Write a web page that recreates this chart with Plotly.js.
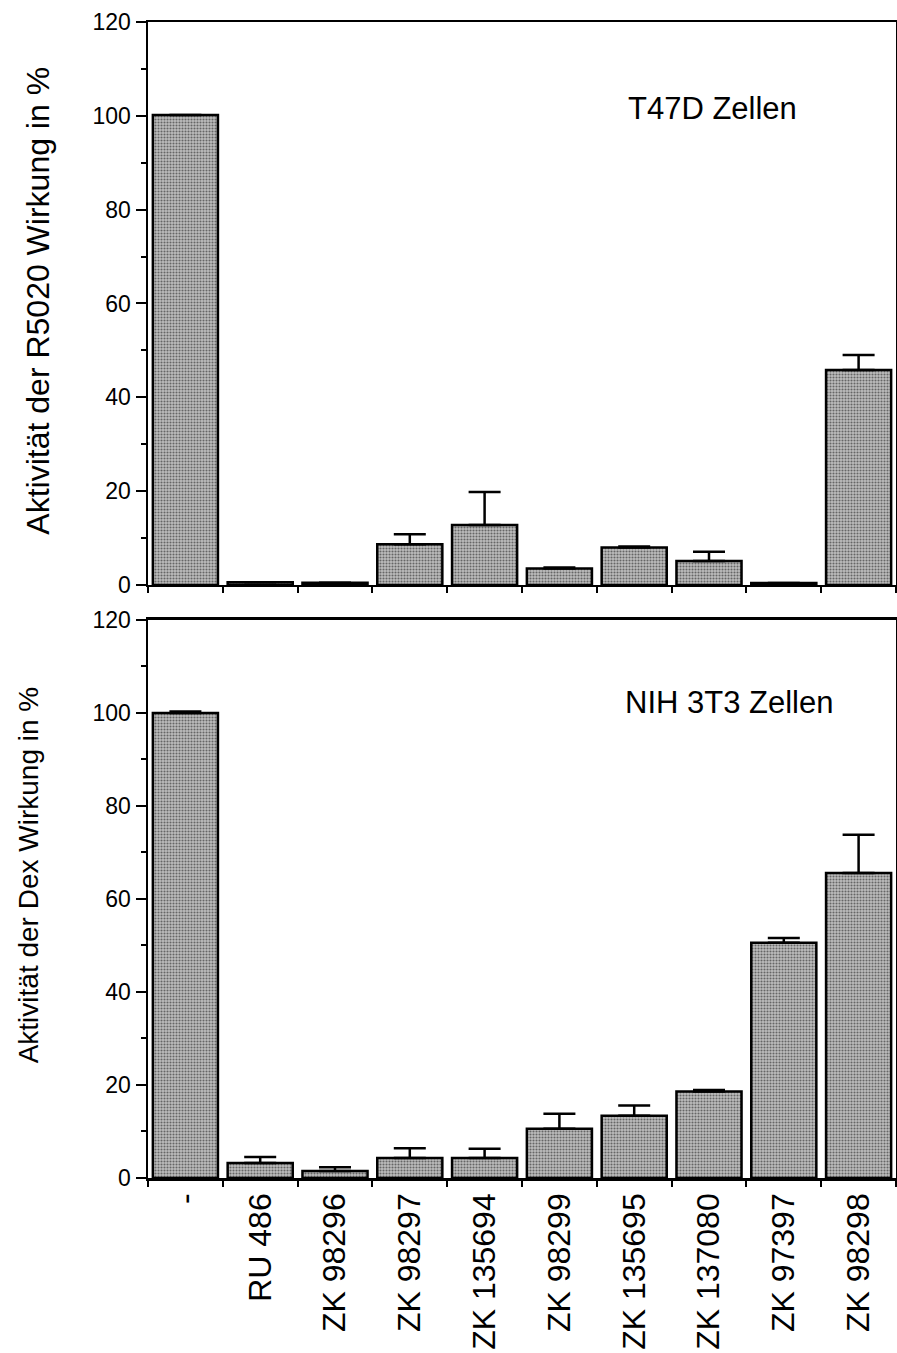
<!DOCTYPE html>
<html>
<head>
<meta charset="utf-8">
<script src="https://cdn.plot.ly/plotly-3.0.1.min.js"></script>
<style>html,body{margin:0;padding:0;background:#fff;}#chart{width:897px;height:1353px;}</style>
</head>
<body>
<div id="chart"></div>
<script>
var categories = ["-", "RU 486", "ZK 98296", "ZK 98297", "ZK 135694", "ZK 98299", "ZK 135695", "ZK 137080", "ZK 97397", "ZK 98298"];
var t47dValues = [100.2, 0.6, 0.5, 8.7, 12.8, 3.5, 8.0, 5.1, 0.4, 45.8];
var t47dErrors = [0, 0, 0, 2.1, 7.0, 0.2, 0.2, 2.0, 0, 3.2];
var t47dErrMinus = [0, 0, 0, 0, 0, 0, 0, 0, 0, 0];
var nihValues = [100.0, 3.2, 1.5, 4.3, 4.3, 10.6, 13.4, 18.6, 50.6, 65.6];
var nihErrors = [0.3, 1.3, 0.8, 2.1, 2.0, 3.2, 2.2, 0.3, 1.0, 8.2];
var nihErrMinus = [0, 0, 0, 0, 0, 0, 0, 0, 0, 0];
var yTickVals = [0, 20, 40, 60, 80, 100, 120];

var font = "Liberation Sans, Arial, Helvetica, sans-serif";
var barMarker = {
  color: "#a8a8a8",
  line: {color: "#000", width: 2.5},
  pattern: {shape: ".", fgcolor: "#666666", bgcolor: "#bebebe", size: 3, solidity: 0.4}
};
var errStyle = function(arr, minus) {
  return {type: "data", symmetric: false, array: arr, arrayminus: minus,
          color: "#000", thickness: 2.5, width: 16};
};

var traces = [
  {type: "bar", x: categories, y: t47dValues, xaxis: "x", yaxis: "y",
   marker: barMarker, error_y: errStyle(t47dErrors, t47dErrMinus), hoverinfo: "none"},
  {type: "bar", x: categories, y: nihValues, xaxis: "x2", yaxis: "y2",
   marker: barMarker, error_y: errStyle(nihErrors, nihErrMinus), hoverinfo: "none"}
];

var yBase = {
  range: [0, 120], tickvals: yTickVals, ticks: "outside", ticklen: 10, tickwidth: 2,
  tickcolor: "#000", showline: true, linecolor: "#000", linewidth: 2.5, mirror: true,
  showgrid: false, zeroline: false, fixedrange: true,
  tickfont: {family: font, size: 23, color: "#000"},
  minor: {dtick: 10, ticks: "outside", ticklen: 5, tickwidth: 2, tickcolor: "#000", showgrid: false}
};
var xBase = {
  type: "category", tickson: "boundaries", ticks: "outside", ticklen: 6, tickwidth: 2,
  tickcolor: "#000", showline: true, linecolor: "#000", linewidth: 2.5, mirror: true,
  showgrid: false, zeroline: false, fixedrange: true, range: [-0.5, 9.5]
};

var layout = {
  width: 897, height: 1353,
  margin: {l: 148, r: 1, t: 22, b: 175},
  paper_bgcolor: "#fff", plot_bgcolor: "#fff",
  showlegend: false, bargap: 0.13,
  font: {family: font, color: "#000"},
  xaxis: Object.assign({}, xBase, {anchor: "y", showticklabels: false}),
  yaxis: Object.assign({}, yBase, {domain: [0.513, 1], anchor: "x"}),
  xaxis2: Object.assign({}, xBase, {anchor: "y2", showticklabels: true, tickangle: -90,
    tickfont: {family: font, size: 32, color: "#000"}}),
  yaxis2: Object.assign({}, yBase, {domain: [0, 0.4827], anchor: "x2"}),
  annotations: [
    {text: "T47D Zellen", xref: "paper", yref: "paper", x: 0.755, y: 0.9255,
     xanchor: "center", yanchor: "middle", showarrow: false, font: {family: font, size: 31, color: "#000"}},
    {text: "NIH 3T3 Zellen", xref: "paper", yref: "paper", x: 0.777, y: 0.4109,
     xanchor: "center", yanchor: "middle", showarrow: false, font: {family: font, size: 31, color: "#000"}},
    {text: "Aktivität der R5020 Wirkung in %", xref: "paper", yref: "paper",
     x: -0.147, y: 0.759, xanchor: "center", yanchor: "middle", textangle: -90,
     showarrow: false, font: {family: font, size: 32, color: "#000"}},
    {text: "Aktivität der Dex Wirkung in %", xref: "paper", yref: "paper",
     x: -0.16, y: 0.2621, xanchor: "center", yanchor: "middle", textangle: -90,
     showarrow: false, font: {family: font, size: 28, color: "#000"}}
  ]
};

Plotly.newPlot("chart", traces, layout, {staticPlot: true, displayModeBar: false});
</script>
</body>
</html>
